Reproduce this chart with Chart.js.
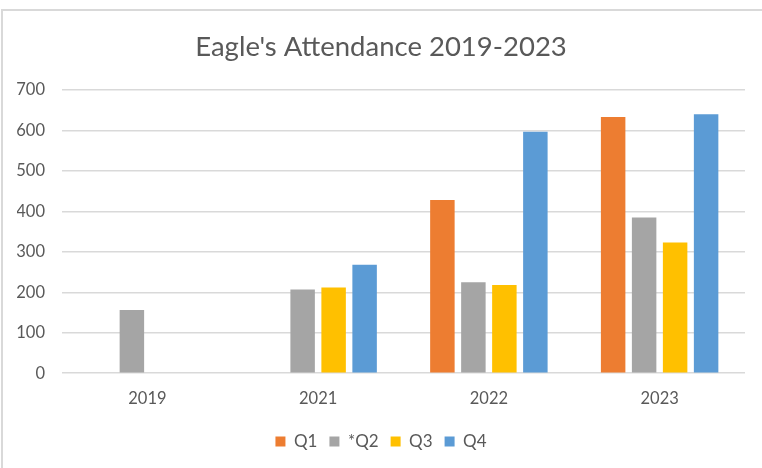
<!DOCTYPE html>
<html>
<head>
<meta charset="utf-8">
<script src="https://cdn.jsdelivr.net/npm/chart.js@4/dist/chart.umd.min.js"></script>
<style>
  html, body { margin: 0; padding: 0; background: #fff; }
  #wrap { position: relative; width: 762px; height: 468px; }
  #frame {
    position: absolute; left: 1px; top: 9px; right: -4px; bottom: -4px;
    border-top: 2px solid #d9d9d9; border-left: 2px solid #d9d9d9;
    pointer-events: none;
  }
  canvas { position: absolute; left: 0; top: 0; }
</style>
</head>
<body>
<div id="wrap">
  <canvas id="chart" width="762" height="468"></canvas>
  <div id="frame"></div>
</div>
<script>
// Attendance per quarter, by year
const years = ['2019', '2021', '2022', '2023'];
const seriesNames = ['Q1', '*Q2', 'Q3', 'Q4'];
const q1 = [null, null, 428, 633];
const q2 = [156, 207, 225, 385];
const q3 = [null, 212, 218, 323];
const q4 = [null, 268, 597, 640];
const yTicks = [0, 100, 200, 300, 400, 500, 600, 700];

const colors = ['#ED7D31', '#A5A5A5', '#FFC000', '#5B9BD5'];
const textColor = '#595959';
const fontFamily = 'Lato, "Open Sans", sans-serif';

const seriesValues = [q1, q2, q3, q4];
const datasets = seriesNames.map((name, i) => ({
  label: name,
  data: seriesValues[i],
  backgroundColor: colors[i],
  borderWidth: 0,
  categoryPercentage: 0.726,
  barPercentage: 0.79
}));

new Chart(document.getElementById('chart'), {
  type: 'bar',
  data: { labels: years, datasets },
  options: {
    responsive: false,
    animation: false,
    layout: { padding: { left: 17, right: 17, top: 0, bottom: 8 } },
    plugins: {
      title: {
        display: true,
        text: "Eagle's Attendance 2019-2023",
        color: textColor,
        font: { family: fontFamily, size: 27.5, weight: 'normal' },
        padding: { top: 31, bottom: 26 }
      },
      legend: {
        position: 'bottom',
        labels: {
          color: textColor,
          font: { family: fontFamily, size: 17 },
          boxWidth: 10,
          boxHeight: 10,
          padding: 12
        }
      },
      tooltip: { enabled: false }
    },
    scales: {
      x: {
        afterFit: (scale) => { scale.height += 4; },
        grid: { display: false },
        border: { display: false },
        ticks: { color: textColor, font: { family: fontFamily, size: 16.5 }, padding: 8 }
      },
      y: {
        min: 0,
        max: 700,
        afterBuildTicks: (scale) => { scale.ticks = yTicks.map(v => ({ value: v })); },
        afterFit: (scale) => { scale.width = 45; },
        grid: { color: '#d9d9d9', lineWidth: 1.5, drawTicks: false },
        border: { display: false },
        ticks: { color: textColor, font: { family: fontFamily, size: 16.5 }, padding: 17 }
      }
    }
  }
});
</script>
</body>
</html>
